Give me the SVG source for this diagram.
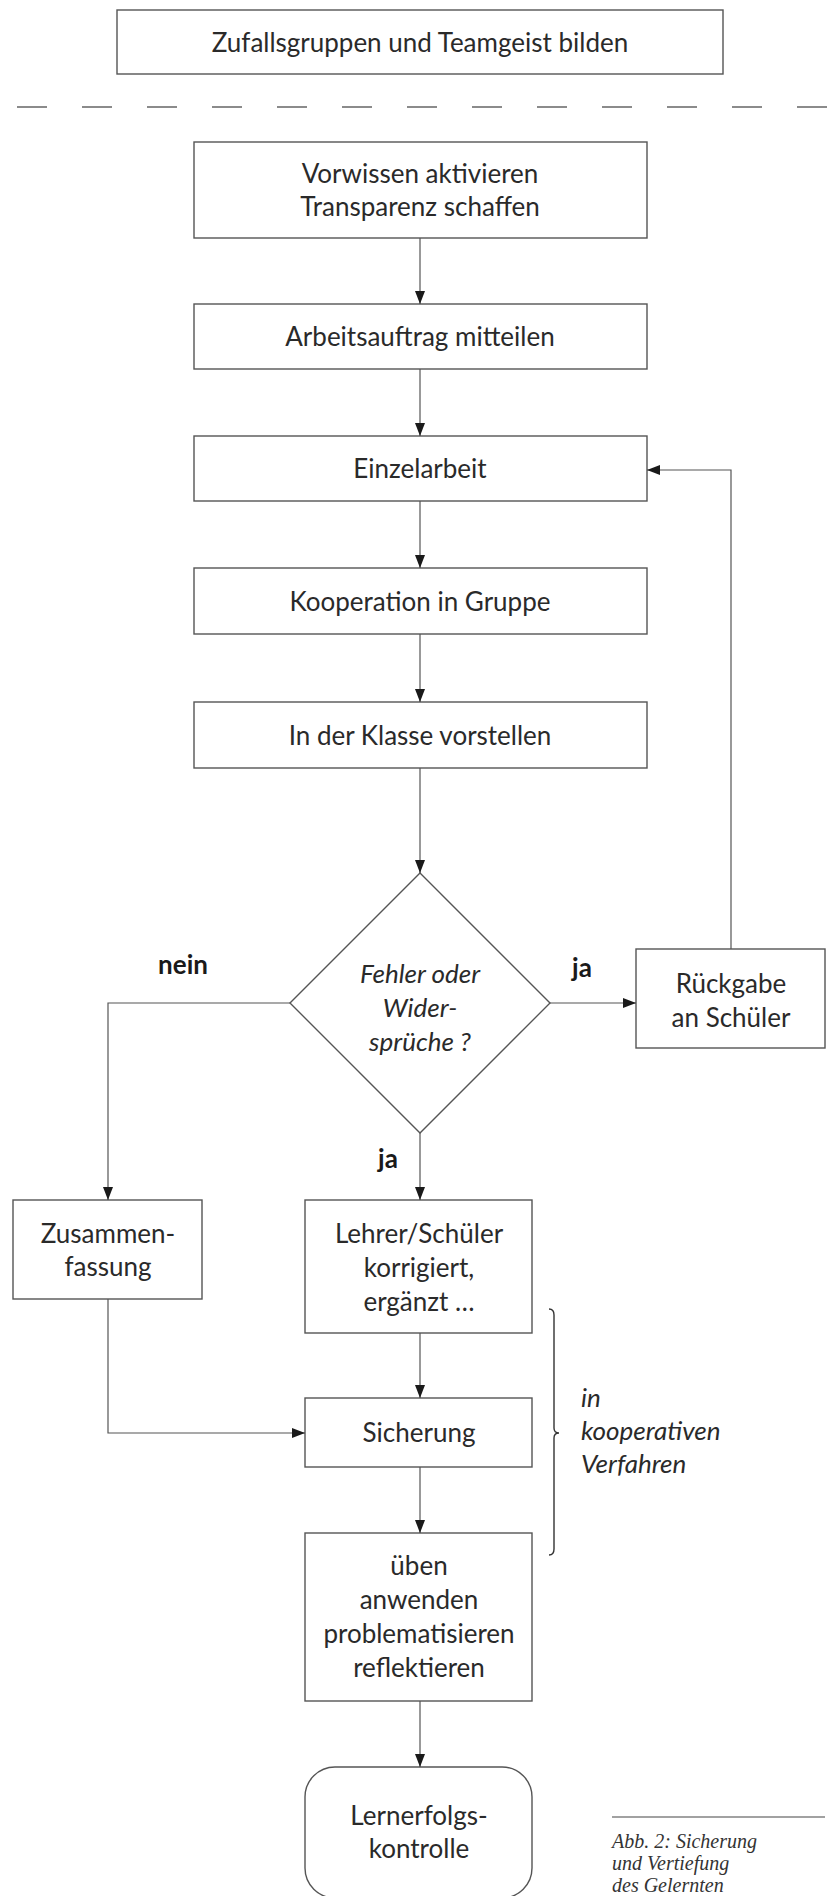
<svg xmlns="http://www.w3.org/2000/svg" width="828" height="1896" viewBox="0 0 828 1896">
<defs>
<marker id="arr" markerUnits="userSpaceOnUse" markerWidth="13" markerHeight="10" refX="13" refY="5" orient="auto">
<path d="M0,0 L13,5 L0,10 z" fill="#1a1a1a"/>
</marker>
<style>
.box{fill:#fff;stroke:#555;stroke-width:1.4}
.t{font-family:Lato,"Open Sans",sans-serif;font-size:26px;fill:#2a2a2a;text-anchor:middle}
.ti{font-family:Lato,"Open Sans",sans-serif;font-size:26px;font-style:italic;fill:#2a2a2a}
.b{font-family:Lato,"Open Sans",sans-serif;font-size:26px;font-weight:bold;fill:#1a1a1a;text-anchor:middle}
.c{fill:none;stroke:#555;stroke-width:1.2}
.cap{font-family:"Liberation Serif",serif;font-size:20px;font-style:italic;fill:#333}
</style>
</defs>
<rect width="828" height="1896" fill="#fff"/>

<g id="n-top">
<rect class="box" x="117" y="10" width="606" height="64"/>
<text class="t" x="420" y="52">Zufallsgruppen und Teamgeist bilden</text>
</g>

<line x1="17" y1="107" x2="828" y2="107" stroke="#666" stroke-width="1.3" stroke-dasharray="30 35"/>

<g id="n-vorwissen">
<rect class="box" x="194" y="142" width="453" height="96"/>
<text class="t" x="420" y="183">Vorwissen aktivieren</text>
<text class="t" x="420" y="216">Transparenz schaffen</text>
</g>
<g id="n-auftrag">
<rect class="box" x="194" y="304" width="453" height="65"/>
<text class="t" x="420" y="346">Arbeitsauftrag mitteilen</text>
</g>
<g id="n-einzel">
<rect class="box" x="194" y="436" width="453" height="65"/>
<text class="t" x="420" y="478">Einzelarbeit</text>
</g>
<g id="n-koop">
<rect class="box" x="194" y="568" width="453" height="66"/>
<text class="t" x="420" y="611">Kooperation in Gruppe</text>
</g>
<g id="n-klasse">
<rect class="box" x="194" y="702" width="453" height="66"/>
<text class="t" x="420" y="745">In der Klasse vorstellen</text>
</g>
<g id="n-decision">
<polygon class="box" points="420,873 550,1003 420,1133 290,1003" stroke-width="1.1"/>
<text class="ti" x="420" y="983" text-anchor="middle">Fehler oder</text>
<text class="ti" x="420" y="1017" text-anchor="middle">Wider-</text>
<text class="ti" x="420" y="1051" text-anchor="middle">sprüche ?</text>
</g>
<g id="n-rueckgabe">
<rect class="box" x="636" y="949" width="189" height="99"/>
<text class="t" x="731" y="993">Rückgabe</text>
<text class="t" x="731" y="1027">an Schüler</text>
</g>
<g id="n-zusammen">
<rect class="box" x="13" y="1200" width="189" height="99"/>
<text class="t" x="108" y="1243">Zusammen-</text>
<text class="t" x="108" y="1276">fassung</text>
</g>
<g id="n-lehrer">
<rect class="box" x="305" y="1200" width="227" height="133"/>
<text class="t" x="419" y="1243">Lehrer/Schüler</text>
<text class="t" x="419" y="1277">korrigiert,</text>
<text class="t" x="419" y="1311">ergänzt …</text>
</g>
<g id="n-sicherung">
<rect class="box" x="305" y="1398" width="227" height="69"/>
<text class="t" x="419" y="1442">Sicherung</text>
</g>
<g id="n-ueben">
<rect class="box" x="305" y="1533" width="227" height="168"/>
<text class="t" x="419" y="1575">üben</text>
<text class="t" x="419" y="1609">anwenden</text>
<text class="t" x="419" y="1643">problematisieren</text>
<text class="t" x="419" y="1677">reflektieren</text>
</g>
<g id="n-kontrolle">
<rect class="box" x="305" y="1767" width="227" height="131" rx="30" ry="30"/>
<text class="t" x="419" y="1825">Lernerfolgs-</text>
<text class="t" x="419" y="1858">kontrolle</text>
</g>

<g id="connectors">
<path class="c" d="M420,238 V304" marker-end="url(#arr)"/>
<path class="c" d="M420,369 V436" marker-end="url(#arr)"/>
<path class="c" d="M420,501 V568" marker-end="url(#arr)"/>
<path class="c" d="M420,634 V702" marker-end="url(#arr)"/>
<path class="c" d="M420,768 V873" marker-end="url(#arr)"/>
<path class="c" d="M290,1003 H108 V1200" marker-end="url(#arr)"/>
<path class="c" d="M550,1003 H636" marker-end="url(#arr)"/>
<path class="c" d="M731,949 V470 H647" marker-end="url(#arr)"/>
<path class="c" d="M420,1133 V1200" marker-end="url(#arr)"/>
<path class="c" d="M420,1333 V1398" marker-end="url(#arr)"/>
<path class="c" d="M108,1299 V1433 H305" marker-end="url(#arr)"/>
<path class="c" d="M420,1467 V1533" marker-end="url(#arr)"/>
<path class="c" d="M420,1701 V1767" marker-end="url(#arr)"/>
</g>

<g id="labels">
<text class="b" x="183" y="974">nein</text>
<text class="b" x="582" y="977">ja</text>
<text class="b" x="388" y="1168">ja</text>
</g>

<g id="bracket">
<path d="M549,1309 Q554,1309 554,1315 V1428 Q554,1433 559,1433 Q554,1433 554,1438 V1549 Q554,1555 549,1555" fill="none" stroke="#333" stroke-width="1.4"/>
<text class="ti" x="581" y="1407">in</text>
<text class="ti" x="581" y="1440">kooperativen</text>
<text class="ti" x="581" y="1473">Verfahren</text>
</g>

<g id="caption">
<line x1="612" y1="1817" x2="825" y2="1817" stroke="#444" stroke-width="1.2"/>
<text class="cap" x="612" y="1848">Abb. 2: Sicherung</text>
<text class="cap" x="612" y="1870">und Vertiefung</text>
<text class="cap" x="612" y="1892">des Gelernten</text>
</g>
</svg>
